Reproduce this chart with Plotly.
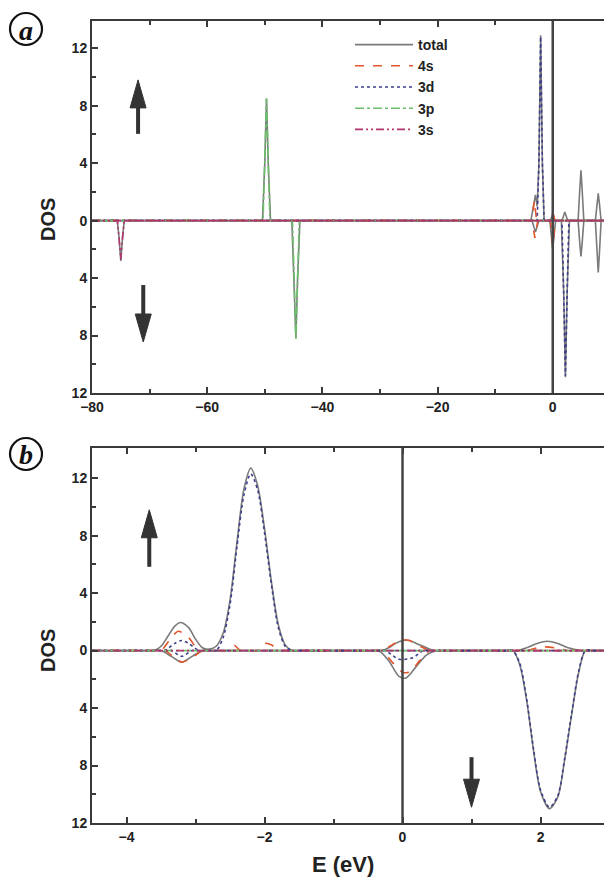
import plotly.graph_objects as go

# ---------------- data ----------------
# Panel (a): wide energy window
a_total_up_E = [-80, -50.4, -50.0, -49.7, -49.4, -49.0, -3.8, -3.3, -3.0, -2.7, -2.4, -2.1, -1.8, -1.5,
                -0.4, 0.0, 0.4, 1.6, 2.1, 2.6, 4.4, 4.7, 4.9, 5.1, 5.4, 7.4, 7.7, 7.9, 8.1, 8.4, 8.9]
a_total_up_V = [0, 0, 4.0, 8.5, 4.0, 0, 0, 1.0, 1.8, 1.0, 4.0, 12.9, 4.0, 0,
                0, 0.5, 0, 0, 0.6, 0, 0, 2.2, 3.5, 2.2, 0, 0, 1.2, 1.9, 1.2, 0, 0]
a_total_dn_E = [-80, -75.6, -75.3, -75.0, -74.7, -74.4, -45.3, -44.9, -44.6, -44.3, -43.9, -3.6, -3.0, -2.4,
                -0.5, 0.0, 0.5, 1.5, 1.9, 2.2, 2.5, 2.9, 4.4, 4.7, 4.9, 5.1, 5.4, 7.4, 7.7, 7.9, 8.1, 8.4, 8.9]
a_total_dn_V = [0, 0, -1.2, -2.8, -1.2, 0, 0, -4.0, -8.2, -4.0, 0, 0, -0.8, 0,
                0, -2.0, 0, 0, -5.0, -10.9, -5.0, 0, 0, -1.6, -2.5, -1.6, 0, 0, -2.3, -3.6, -2.3, 0, 0]
a_4s_up_E = [-80, -3.6, -3.2, -2.8, -0.4, 0.0, 0.4, 8.9]
a_4s_up_V = [0, 0, 1.4, 0, 0, 0.6, 0, 0]
a_4s_dn_E = [-80, -3.6, -3.1, -2.6, -0.4, 0.0, 0.4, 8.9]
a_4s_dn_V = [0, 0, -1.2, 0, 0, -1.8, 0, 0]
a_3d_up_E = [-80, -2.7, -2.4, -2.1, -1.8, -1.5, 8.9]
a_3d_up_V = [0, 0, 4.0, 12.8, 4.0, 0, 0]
a_3d_dn_E = [-80, 1.6, 1.9, 2.2, 2.5, 2.8, 8.9]
a_3d_dn_V = [0, 0, -5.0, -10.8, -5.0, 0, 0]
a_3p_up_E = [-80, -50.3, -50.0, -49.7, -49.4, -49.1, 8.9]
a_3p_up_V = [0, 0, 4.2, 8.5, 4.2, 0, 0]
a_3p_dn_E = [-80, -45.2, -44.9, -44.6, -44.3, -44.0, 8.9]
a_3p_dn_V = [0, 0, -4.0, -8.2, -4.0, 0, 0]
a_3s_up_E = [-80, 8.9]
a_3s_up_V = [0, 0]
a_3s_dn_E = [-80, -75.6, -75.3, -75.0, -74.7, -74.4, 8.9]
a_3s_dn_V = [0, 0, -1.2, -2.7, -1.2, 0, 0]

# Panel (b): zoom around the Fermi level
b_total_up_E = [-4.5, -3.7, -3.6, -3.5, -3.4, -3.3, -3.22, -3.1, -3.0, -2.9, -2.8, -2.7, -2.6, -2.5,
                -2.4, -2.3, -2.2, -2.1, -2.0, -1.9, -1.8, -1.7, -1.6, -1.5, -0.4, -0.3, -0.2, -0.1,
                0.0, 0.1, 0.2, 0.3, 0.45, 0.55, 1.55, 1.65, 1.8, 1.95, 2.1, 2.25, 2.4, 2.6, 2.7, 2.92]
b_total_up_V = [0, 0, 0, 0.3, 1.0, 1.7, 1.95, 1.6, 0.8, 0.2, 0.1, 0.3, 1.2, 3.5,
                7.5, 11.2, 12.7, 11.5, 8.5, 4.8, 1.8, 0.4, 0, 0, 0, 0, 0.2, 0.5,
                0.7, 0.7, 0.5, 0.3, 0, 0, 0, 0, 0.2, 0.5, 0.65, 0.5, 0.2, 0, 0, 0]
b_total_dn_E = [-4.5, -3.6, -3.5, -3.35, -3.2, -3.05, -2.9, -2.8, -0.45, -0.35, -0.2, -0.05, 0.05,
                0.2, 0.35, 0.5, 0.6, 1.5, 1.6, 1.7, 1.8, 1.9, 2.0, 2.13, 2.25, 2.35, 2.45, 2.55,
                2.65, 2.75, 2.92]
b_total_dn_V = [0, 0, 0, -0.4, -0.8, -0.4, 0, 0, 0, 0, -0.7, -1.8, -1.9,
                -1.1, -0.3, 0, 0, 0, 0, -1.0, -3.5, -7.0, -9.8, -11.0, -10.2, -7.6, -4.5, -1.6,
                0, 0, 0]
b_3d_up_E = [-4.5, -3.55, -3.45, -3.3, -3.2, -3.1, -2.95, -2.85, -2.8, -2.7, -2.6, -2.5, -2.4, -2.3,
             -2.2, -2.1, -2.0, -1.9, -1.8, -1.7, -1.6, -1.5, 2.92]
b_3d_up_V = [0, 0, 0, 0.5, 0.7, 0.5, 0, 0, 0, 0, 0.9, 3.2, 7.2, 10.8,
             12.3, 11.2, 8.2, 4.6, 1.6, 0.3, 0, 0, 0]
b_3d_dn_E = [-4.5, -3.45, -3.35, -3.2, -3.05, -2.95, -0.35, -0.25, -0.05, 0.15, 0.3, 0.4, 1.5, 1.6,
             1.7, 1.8, 1.9, 2.0, 2.13, 2.25, 2.35, 2.45, 2.55, 2.65, 2.75, 2.92]
b_3d_dn_V = [0, 0, 0, -0.4, 0, 0, 0, 0, -0.6, -0.5, 0, 0, 0, 0,
             -0.9, -3.4, -6.9, -9.7, -10.9, -10.1, -7.5, -4.4, -1.5, 0, 0, 0]
b_4s_up_E = [-4.5, -3.6, -3.5, -3.35, -3.25, -3.1, -2.95, -2.85, -2.65, -2.55, -2.45, -2.35, -2.25,
             -2.1, -2.0, -1.9, -1.8, -1.7, -0.4, -0.3, -0.15, 0.0, 0.1, 0.25, 0.4, 0.5,
             1.7, 1.8, 2.0, 2.2, 2.4, 2.5, 2.92]
b_4s_up_V = [0, 0, 0, 0.9, 1.35, 0.9, 0, 0, 0, 0, 0.4, 0, 0,
             0, 0.5, 0.4, 0, 0, 0, 0, 0.4, 0.75, 0.7, 0.3, 0, 0,
             0, 0, 0.25, 0.2, 0, 0, 0]
b_4s_dn_E = [-4.5, -3.55, -3.45, -3.3, -3.2, -3.05, -2.9, -2.8, -0.4, -0.3, -0.15, 0.0, 0.1, 0.25,
             0.4, 0.5, 2.92]
b_4s_dn_V = [0, 0, 0, -0.5, -0.8, -0.5, 0, 0, 0, 0, -0.8, -1.5, -1.5, -0.7,
             0, 0, 0]
b_3p_E = [-4.5, 2.92]
b_3p_V = [0, 0]
b_3s_E = [-4.5, 2.92]
b_3s_V = [0, 0]

series_names = ["total", "4s", "3d", "3p", "3s"]
y_tickvals = [-12, -8, -4, 0, 4, 8, 12]
y_ticktext = ["12", "8", "4", "0", "4", "8", "12"]

# ---------------- styles ----------------
styles = {
    "total": dict(color="#7a7a7a", width=1.6, dash="solid"),
    "4s": dict(color="#e2562c", width=1.6, dash="dash"),
    "3d": dict(color="#3c3f8c", width=1.6, dash="dot"),
    "3p": dict(color="#6cbf6a", width=1.6, dash="dashdot"),
    "3s": dict(color="#b2356e", width=1.6, dash="8px,3px,2px,3px,2px,3px"),
}

W, H = 604, 877
L, R, T, B = 92, 604, 21, 823


def px(x):
    return (x - L) / (R - L)


def py(y):
    return (B - y) / (B - T)


fig = go.Figure()

panel_a = {
    "total": [(a_total_up_E, a_total_up_V), (a_total_dn_E, a_total_dn_V)],
    "4s": [(a_4s_up_E, a_4s_up_V), (a_4s_dn_E, a_4s_dn_V)],
    "3d": [(a_3d_up_E, a_3d_up_V), (a_3d_dn_E, a_3d_dn_V)],
    "3p": [(a_3p_up_E, a_3p_up_V), (a_3p_dn_E, a_3p_dn_V)],
    "3s": [(a_3s_up_E, a_3s_up_V), (a_3s_dn_E, a_3s_dn_V)],
}
panel_b = {
    "total": [(b_total_up_E, b_total_up_V), (b_total_dn_E, b_total_dn_V)],
    "4s": [(b_4s_up_E, b_4s_up_V), (b_4s_dn_E, b_4s_dn_V)],
    "3d": [(b_3d_up_E, b_3d_up_V), (b_3d_dn_E, b_3d_dn_V)],
    "3p": [(b_3p_E, b_3p_V)],
    "3s": [(b_3s_E, b_3s_V)],
}

for name in series_names:
    for i, (ex, vy) in enumerate(panel_a[name]):
        fig.add_trace(go.Scatter(x=ex, y=vy, mode="lines", name=name, legendgroup=name,
                                 showlegend=(i == 0), line=styles[name],
                                 xaxis="x", yaxis="y", hoverinfo="skip"))
for name in series_names:
    for ex, vy in panel_b[name]:
        fig.add_trace(go.Scatter(x=ex, y=vy, mode="lines", name=name, legendgroup=name,
                                 showlegend=False, line=dict(**styles[name], shape="spline", smoothing=0.8),
                                 xaxis="x2", yaxis="y2", hoverinfo="skip"))

axis_col = "#3a3a3a"
tickfont = dict(family="Liberation Sans, Arial, sans-serif", size=14, color="#222")
common = dict(showline=True, linecolor=axis_col, linewidth=2, ticks="inside", ticklen=6,
              tickwidth=1.5, tickcolor=axis_col, showgrid=False, zeroline=False,
              tickfont=tickfont)

fig.update_layout(
    width=W, height=H,
    margin=dict(l=L, r=W - R, t=T, b=H - B),
    paper_bgcolor="white", plot_bgcolor="white",
    font=dict(family="Liberation Sans, Arial, sans-serif", color="#222"),
    showlegend=True,
    legend=dict(x=px(350), y=py(29), xanchor="left", yanchor="top",
                bgcolor="rgba(0,0,0,0)", tracegroupgap=0, itemwidth=58,
                font=dict(size=14, family="Liberation Sans, Arial, sans-serif", weight="bold", color="#222")),
    xaxis=dict(**common, domain=[0, 1], range=[-80, 8.9], anchor="y", mirror="ticks",
               tickvals=[-80, -60, -40, -20, 0],
               minor=dict(tickvals=[-70, -50, -30, -10], ticks="inside", ticklen=4, tickcolor=axis_col)),
    yaxis=dict(**common, domain=[py(393), 1], range=[-12, 13.9], anchor="x",
               tickvals=y_tickvals, ticktext=y_ticktext,
               minor=dict(tickvals=[-10, -6, -2, 2, 6, 10], ticks="inside", ticklen=4, tickcolor=axis_col)),
    xaxis2=dict(**common, domain=[0, 1], range=[-4.5, 2.92], anchor="y2", mirror="ticks",
                tickvals=[-4, -2, 0, 2],
                minor=dict(tickvals=[-3, -1, 1], ticks="inside", ticklen=4, tickcolor=axis_col)),
    yaxis2=dict(**common, domain=[0, py(448)], range=[-12, 14.1], anchor="x2",
                tickvals=y_tickvals, ticktext=y_ticktext,
                minor=dict(tickvals=[-10, -6, -2, 2, 6, 10], ticks="inside", ticklen=4, tickcolor=axis_col)),
)
fig.update_xaxes(tickfont=dict(weight="bold"))
fig.update_yaxes(tickfont=dict(weight="bold"))

# Fermi level lines
fig.add_shape(type="line", xref="x", yref="y domain", x0=0, x1=0, y0=0, y1=1,
              line=dict(color="#444", width=2.5))
fig.add_shape(type="line", xref="x2", yref="y2 domain", x0=0, x1=0, y0=0, y1=1,
              line=dict(color="#444", width=2.5))


# spin arrows
def arrow(xref, yref, x, ytip, up, length, head=28, half=8):
    s = 1 if up else -1
    fig.add_shape(type="line", xref=xref, yref=yref, xsizemode="pixel", ysizemode="pixel",
                  xanchor=x, yanchor=ytip, x0=0, x1=0, y0=-s * (head - 4), y1=-s * length,
                  line=dict(color="#333", width=4))
    fig.add_shape(type="path", xref=xref, yref=yref, xsizemode="pixel", ysizemode="pixel",
                  xanchor=x, yanchor=ytip,
                  path=f"M {-half} {-s * head} L 0 0 L {half} {-s * head} Z",
                  fillcolor="#333", line=dict(color="#333", width=1))


arrow("x", "y", -72.0, 9.8, True, 54)
arrow("x", "y", -71.1, -8.45, False, 57)
arrow("x2", "y2", -3.67, 9.8, True, 57)
arrow("x2", "y2", 1.0, -10.9, False, 50)

# axis titles
lab_font = dict(family="Liberation Sans, Arial, sans-serif", size=20, color="#222", weight="bold")
fig.add_annotation(text="DOS", xref="paper", yref="paper", x=px(48), y=py(220), textangle=-90,
                   showarrow=False, font=lab_font, xanchor="center", yanchor="middle")
fig.add_annotation(text="DOS", xref="paper", yref="paper", x=px(48), y=py(651), textangle=-90,
                   showarrow=False, font=lab_font, xanchor="center", yanchor="middle")
fig.add_annotation(text="E (eV)", xref="paper", yref="paper", x=px(343), y=py(864),
                   showarrow=False, font=dict(lab_font, size=22), xanchor="center", yanchor="middle")

# circled panel letters
for letter, cx, cy in [("a", 26, 29), ("b", 26, 454)]:
    r = 16
    fig.add_shape(type="circle", xref="paper", yref="paper",
                  x0=px(cx - r), x1=px(cx + r), y0=py(cy + r), y1=py(cy - r),
                  line=dict(color="#111", width=2.2))
    fig.add_annotation(text=f"<i>{letter}</i>", xref="paper", yref="paper", x=px(cx), y=py(cy + 1),
                       showarrow=False, xanchor="center", yanchor="middle",
                       font=dict(family="Liberation Serif, Times New Roman, serif", size=28,
                                 color="#111", weight="bold"))

fig.write_html("out.html")
